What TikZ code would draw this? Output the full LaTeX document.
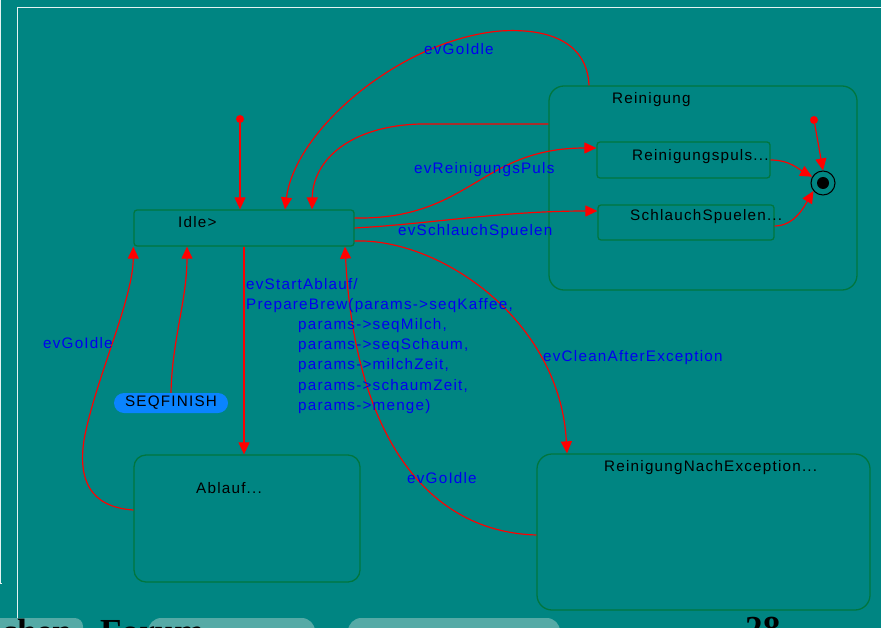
\documentclass[tikz,border=0pt]{standalone}
\usepackage{fontspec}
\setmainfont[LetterSpace=8]{Liberation Sans}
\newfontfamily\footfont{Liberation Serif}
\usetikzlibrary{arrows.meta}
\definecolor{slidebg}{HTML}{008582}
\definecolor{slidelite}{HTML}{55AAA6}
\definecolor{stateline}{HTML}{00763E}
\definecolor{transred}{HTML}{FF0000}
\definecolor{evblue}{HTML}{0000F0}
\definecolor{pillblue}{HTML}{0A84FF}

\begin{document}
\begin{tikzpicture}[x=0.03cm, y=-0.03cm,
    statebox/.style={draw=stateline, line width=1.1pt, inner sep=0pt},
    trans/.style={draw=transred, line width=1pt, -{Triangle[length=0.36cm,width=0.33cm]}},
    evtext/.style={text=evblue, inner sep=0pt, anchor=base west, font=\fontsize{13}{16}\selectfont},
    nametext/.style={text=black, inner sep=0pt, anchor=base west, font=\fontsize{13}{16}\selectfont},
    initdot/.style={circle, fill=transred, inner sep=0pt, minimum size=0.24cm},
    foottext/.style={inner sep=0pt, anchor=base west, font=\footfont\bfseries\fontsize{30}{30}\selectfont}]

    \fill[slidebg] (0,0) rectangle (881,628);
    \useasboundingbox (0,0) rectangle (881,628);

    % slide frame and footer
    \draw[white!90!slidebg, line width=0.8pt] (17,628) -- (17,7) -- (881,7);
    \draw[white!90!slidebg, line width=0.8pt] (0.5,0) -- (0.5,583) -- (2,583);
    \fill[slidelite, rounded corners=0.25cm] (-10,618) rectangle (83,650);
    \fill[slidelite, rounded corners=0.4cm] (148,618) rectangle (315,650);
    \fill[slidelite, rounded corners=0.4cm] (348,618) rectangle (560,650);
    \node[foottext, anchor=base east] (footl) at (72,643) {chen};
    \node[foottext] (footm) at (100,643) {Forum};
    \node[foottext] (footr) at (745,640) {28};

    % states
    \node[statebox, rounded corners=0.09cm, minimum width=6.6cm, minimum height=1.08cm] (idle) at (244,228) {};
    \node[statebox, rounded corners=0.45cm, minimum width=9.24cm, minimum height=6.12cm] (rein) at (703,188) {};
    \node[statebox, rounded corners=0.09cm, minimum width=5.19cm, minimum height=1.08cm] (puls) at (683.5,160) {};
    \node[statebox, rounded corners=0.09cm, minimum width=5.28cm, minimum height=1.05cm] (schlauch) at (686,222.5) {};
    \node[statebox, rounded corners=0.36cm, minimum width=6.78cm, minimum height=3.81cm] (ablauf) at (247,518.5) {};
    \node[statebox, rounded corners=0.45cm, minimum width=9.99cm, minimum height=4.68cm] (rne) at (703.5,532) {};
    \node[fill=pillblue, rounded corners=0.3cm, minimum width=3.42cm, minimum height=0.6cm, inner sep=0pt,
          font=\fontsize{13}{16}\selectfont] (seq) at (171,403) {SEQFINISH};
    \node[circle, draw=black, line width=0.9pt, minimum size=0.72cm, inner sep=0pt] (fin) at (823,183) {};
    \node[circle, fill=black, minimum size=0.36cm, inner sep=0pt] (fincore) at (fin) {};
    \node[initdot] (initA) at (240,119) {};
    \node[initdot] (initB) at (814,120) {};

    \node[nametext] (idlelbl) at (178,227) {Idle>};
    \node[nametext] (reinlbl) at (612,104) {Reinigung};
    \node[nametext] (pulslbl) at (632,161) {Reinigungspuls...};
    \node[nametext] (schlauchlbl) at (630,221) {SchlauchSpuelen...};
    \node[nametext] (ablauflbl) at (196,493) {Ablauf...};
    \node[nametext] (rnelbl) at (604,471) {ReinigungNachException...};

    % transitions
    \draw[trans] (initA) -- (initA |- idle.north);
    \draw[trans] (initB) -- (fin.north);
    \draw[trans] (rein.north -| 589,0) .. controls (587,40) and (545,28) .. (500,31)
        .. controls (400,40) and (295,130) .. (idle.north -| 285,0);
    \draw[trans] (rein.west |- 0,124) -- (420,124) .. controls (350,126) and (313,160) .. (idle.north -| 312,0);
    \draw[trans] (idle.east |- 0,218) .. controls (470,220) and (480,148) .. (puls.west |- 0,148);
    \draw[trans] (idle.east |- 0,228) .. controls (430,224) and (500,211) .. (schlauch.west |- 0,211);
    \draw[trans] (idle.east |- 0,241) .. controls (440,238) and (560,320) .. (rne.north -| 567,0);
    \draw[trans] (rne.west |- 0,535) .. controls (430,532) and (355,440) .. (idle.south -| 345,0);
    \draw[trans] (idle.south -| 244,0) -- (ablauf.north -| 244,0);
    \draw[trans] (ablauf.west |- 0,510) .. controls (90,507) and (78,480) .. (84,440)
        .. controls (95,380) and (133,300) .. (idle.south west);
    \draw[trans] (seq.north) .. controls (172,340) and (187,300) .. (idle.south -| 187,0);
    \draw[trans] (puls.east |- 0,160) .. controls (790,160) and (800,170) .. (fin.150);
    \draw[trans] (schlauch.east |- 0,226) .. controls (795,226) and (805,205) .. (fin.220);

    % events
    \node[evtext] (goidleA) at (424,55) {evGoIdle};
    \node[evtext] (pulsev) at (414,174) {evReinigungsPuls};
    \node[evtext] (schlauchev) at (398,236) {evSchlauchSpuelen};
    \node[evtext] (cleanev) at (543,361) {evCleanAfterException};
    \node[evtext] (goidleB) at (407,483) {evGoIdle};
    \node[evtext] (goidleC) at (43,348) {evGoIdle};
    \node[evtext] (startev) at (246,289) {evStartAblauf/};
    \node[evtext] (brew) at (246,309) {PrepareBrew(params->seqKaffee,};
    \foreach \t [count=\i] in {{params->seqMilch,}, {params->seqSchaum,}, {params->milchZeit,},
                               {params->schaumZeit,}, {params->menge)}}
        \node[evtext] (param\i) at (298, {309+20.33*\i}) {\t};

\end{tikzpicture}
\end{document}
